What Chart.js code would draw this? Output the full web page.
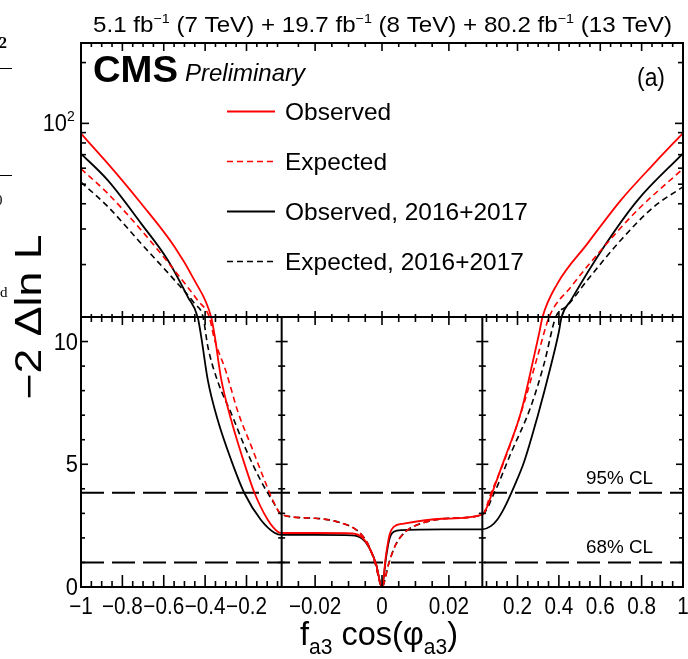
<!DOCTYPE html>
<html><head><meta charset="utf-8">
<script src="https://cdn.jsdelivr.net/npm/chart.js@4/dist/chart.umd.min.js"></script>
<style>html,body{margin:0;padding:0;background:#fff}#c{display:block}</style>
</head><body>
<canvas id="c" width="688" height="659"></canvas>
<script>
// ---------------- data ----------------
const seriesNames = ['Observed', 'Expected', 'Observed, 2016+2017', 'Expected, 2016+2017'];

const obsX = [-1, -0.87, -0.709, -0.548, -0.452, -0.371, -0.355, -0.323, -0.274, -0.226, -0.162, -0.098, -0.049, -0.03, -0.02, -0.0088, -0.0058, -0.0038, -0.0018, 0, 0.0012, 0.0022, 0.0035, 0.0065, 0.018, 0.03, 0.055, 0.071, 0.135, 0.216, 0.28, 0.305, 0.321, 0.393, 0.538, 0.699, 0.86, 1];
const obsY = [89, 63.2, 40.1, 24.5, 16.75, 11, 10.3, 8.5, 6.8, 5.45, 3.85, 2.75, 2.25, 2.2, 2.2, 2.18, 2.0, 1.6, 0.95, 0, 1.3, 2.1, 2.45, 2.58, 2.78, 2.95, 3.3, 3.68, 5.17, 7.1, 9.4, 10.35, 11, 16.1, 25.4, 41.6, 63.2, 89.5];

const expX = [-1, -0.87, -0.709, -0.548, -0.436, -0.38, -0.355, -0.3, -0.24, -0.175, -0.12, -0.065, -0.03, -0.02, -0.012, -0.007, -0.004, -0.002, 0, 0.002, 0.004, 0.007, 0.012, 0.02, 0.03, 0.071, 0.152, 0.232, 0.297, 0.353, 0.458, 0.618, 0.78, 1];
const expY = [59.6, 44.9, 29.6, 18.7, 13.3, 11, 10.1, 8.8, 7.1, 5.7, 4.5, 3.4, 2.95, 2.8, 2.6, 2.25, 1.7, 0.95, 0, 0.95, 1.7, 2.25, 2.6, 2.8, 2.95, 3.8, 5.5, 7.5, 9.4, 11, 15.5, 24.5, 37.2, 59.6];

const obs1617X = [-1, -0.87, -0.709, -0.58, -0.484, -0.436, -0.419, -0.387, -0.339, -0.274, -0.21, -0.13, -0.065, -0.03, -0.02, -0.009, -0.0058, -0.0038, -0.0018, 0, 0.0012, 0.0022, 0.0035, 0.006, 0.018, 0.03, 0.071, 0.103, 0.135, 0.184, 0.232, 0.297, 0.361, 0.40, 0.413, 0.458, 0.618, 0.78, 1];
const obs1617Y = [70.8, 52.2, 31.9, 21.0, 13.85, 11, 10.2, 8.43, 6.8, 5.17, 3.82, 2.73, 2.21, 2.12, 2.12, 2.1, 1.95, 1.6, 0.95, 0, 1.2, 1.95, 2.25, 2.32, 2.35, 2.35, 2.48, 2.75, 3.2, 4.1, 5.1, 6.95, 9.0, 10.4, 11, 13.3, 24.5, 41.6, 71];

const exp1617X = [-1, -0.87, -0.709, -0.548, -0.452, -0.41, -0.387, -0.34, -0.27, -0.205, -0.135, -0.07, -0.03, -0.02, -0.012, -0.007, -0.004, -0.002, 0, 0.002, 0.004, 0.007, 0.012, 0.02, 0.03, 0.087, 0.168, 0.264, 0.329, 0.385, 0.441, 0.538, 0.699, 0.86, 1];
const exp1617Y = [51.2, 38.7, 25.4, 16.75, 12.85, 11, 9.8, 8.4, 7.0, 5.65, 4.4, 3.45, 2.95, 2.8, 2.6, 2.25, 1.7, 0.95, 0, 0.95, 1.7, 2.25, 2.6, 2.8, 2.95, 3.82, 5.45, 7.34, 9.11, 11, 12.5, 16.75, 26.4, 38.7, 48.5];

const clLevels = [3.84, 1.0];
const clLabels = ['95% CL', '68% CL'];

const xTickValues = [-1, -0.8, -0.6, -0.4, -0.2, -0.02, 0, 0.02, 0.2, 0.4, 0.6, 0.8, 1];
const xTickLabels = ['\u22121', '\u22120.8', '\u22120.6', '\u22120.4', '\u22120.2', '\u22120.02', '0', '0.02', '0.2', '0.4', '0.6', '0.8', '1'];
const yLinTickValues = [0, 5, 10];
const yLinTickLabels = ['0', '5', '10'];
const yLogTickValues = [100];

// ---------------- custom scales (piecewise x, linear+log y) ----------------
const XB = 0.03, YSPLIT = 11, YMAX = 250, LINFRAC = 270 / 544;
function xDec(v) {
  if (v <= -XB) return (v + 1) / (1 - XB) / 3;
  if (v <= XB) return 1 / 3 + (v + XB) / (2 * XB) / 3;
  return 2 / 3 + (v - XB) / (1 - XB) / 3;
}
function xInv(d) {
  if (d <= 1 / 3) return d * 3 * (1 - XB) - 1;
  if (d <= 2 / 3) return (d - 1 / 3) * 3 * 2 * XB - XB;
  return (d - 2 / 3) * 3 * (1 - XB) + XB;
}
function yDec(v) {
  if (v <= YSPLIT) return v / YSPLIT * LINFRAC;
  return LINFRAC + Math.log10(v / YSPLIT) / Math.log10(YMAX / YSPLIT) * (1 - LINFRAC);
}
function yInv(d) {
  if (d <= LINFRAC) return d / LINFRAC * YSPLIT;
  return YSPLIT * Math.pow(10, (d - LINFRAC) / (1 - LINFRAC) * Math.log10(YMAX / YSPLIT));
}
class PiecewiseX extends Chart.LinearScale {
  getPixelForValue(v) { return v == null ? NaN : this.getPixelForDecimal(xDec(v)); }
  getValueForPixel(p) { return xInv(this.getDecimalForPixel(p)); }
}
PiecewiseX.id = 'piecewiseX';
PiecewiseX.defaults = Chart.LinearScale.defaults;
class LinLogY extends Chart.LinearScale {
  getPixelForValue(v) { return v == null ? NaN : this.getPixelForDecimal(yDec(v)); }
  getValueForPixel(p) { return yInv(this.getDecimalForPixel(p)); }
}
LinLogY.id = 'linLogY';
LinLogY.defaults = Chart.LinearScale.defaults;
Chart.register(PiecewiseX, LinLogY);

// ---------------- helpers ----------------
const SANS = '"Liberation Sans", Arial, Helvetica, sans-serif';
function pts(xs, ys) { return xs.map((x, i) => ({ x: x, y: ys[i] })); }
function seg(ctx, x1, y1, x2, y2) { ctx.beginPath(); ctx.moveTo(x1, y1); ctx.lineTo(x2, y2); ctx.stroke(); }
function fitText(ctx, str, x, y, font, align, targetW, sx) {
  ctx.save();
  ctx.font = font;
  const w = ctx.measureText(str).width;
  const s = targetW ? targetW / w : (sx || 1);
  ctx.translate(x, y);
  ctx.scale(s, 1);
  ctx.textAlign = align;
  ctx.textBaseline = 'alphabetic';
  ctx.fillText(str, 0, 0);
  ctx.restore();
}
function richText(ctx, segs, x, y, targetW, align, rot) {
  ctx.save();
  let total = 0;
  const ws = segs.map(s => { ctx.font = (s.style || '') + ' ' + s.size + 'px ' + SANS; const w = ctx.measureText(s.t).width; total += w; return w; });
  const sc = targetW ? targetW / total : 1;
  ctx.translate(x, y);
  if (rot) ctx.rotate(rot);
  ctx.scale(sc, 1);
  let cx = align === 'center' ? -total / 2 : 0;
  ctx.textAlign = 'left';
  ctx.textBaseline = 'alphabetic';
  segs.forEach((s, i) => {
    ctx.font = (s.style || '') + ' ' + s.size + 'px ' + SANS;
    ctx.fillText(s.t, cx, s.dy || 0);
    cx += ws[i];
  });
  ctx.restore();
}
function range(a, b, step, skip) {
  const out = [];
  const n = Math.round((b - a) / step);
  for (let k = 0; k <= n; k++) {
    const v = +(a + k * step).toFixed(6);
    if (!skip || !skip(v)) out.push(v);
  }
  return out;
}

// tick positions (axis decoration)
const isMul = (v, m) => Math.abs(v / m - Math.round(v / m)) < 1e-6;
const xMinor = [].concat(
  range(-0.95, -0.05, 0.05, v => isMul(v, 0.2)),
  range(-0.025, 0.025, 0.005, v => isMul(v, 0.02)),
  range(0.05, 0.95, 0.05, v => isMul(v, 0.2))
);
const yLinMinor = [1, 2, 3, 4, 6, 7, 8, 9];
const yLogMinor = [20, 30, 40, 50, 60, 70, 80, 90, 200];

// ---------------- plugin: frame, ticks, texts, legend ----------------
const cmsPlugin = {
  id: 'cmsDecor',
  afterDatasetsDraw(chart) {
    const { ctx, chartArea: { left, right, top, bottom }, scales: { x, y } } = chart;
    const y11 = y.getPixelForValue(YSPLIT);
    const xL = x.getPixelForValue(-XB), xR = x.getPixelForValue(XB);
    ctx.save();
    ctx.strokeStyle = '#000';
    ctx.lineCap = 'butt';
    ctx.lineWidth = 2;
    ctx.strokeRect(left, top, right - left, bottom - top);
    seg(ctx, left, y11, right, y11);
    seg(ctx, xL, y11, xL, bottom);
    seg(ctx, xR, y11, xR, bottom);
    ctx.lineWidth = 1.6;
    xTickValues.forEach(v => {
      const p = x.getPixelForValue(v);
      seg(ctx, p, bottom, p, bottom - 12);
      seg(ctx, p, top, p, top + 8);
      seg(ctx, p, y11 - 6, p, y11 + 8);
    });
    xMinor.forEach(v => {
      const p = x.getPixelForValue(v);
      seg(ctx, p, bottom, p, bottom - 6);
      seg(ctx, p, top, p, top + 4);
      seg(ctx, p, y11 - 3, p, y11 + 5);
    });
    yLinTickValues.forEach(v => {
      const p = y.getPixelForValue(v);
      seg(ctx, left, p, left + 7, p);
      seg(ctx, right, p, right - 7, p);
      seg(ctx, xL - 6, p, xL + 6, p);
      seg(ctx, xR - 6, p, xR + 6, p);
    });
    yLinMinor.forEach(v => {
      const p = y.getPixelForValue(v);
      seg(ctx, left, p, left + 4, p);
      seg(ctx, right, p, right - 4, p);
      seg(ctx, xL - 3.5, p, xL + 3.5, p);
      seg(ctx, xR - 3.5, p, xR + 3.5, p);
    });
    yLogTickValues.forEach(v => {
      const p = y.getPixelForValue(v);
      seg(ctx, left, p, left + 8, p);
      seg(ctx, right, p, right - 8, p);
    });
    yLogMinor.forEach(v => {
      const p = y.getPixelForValue(v);
      seg(ctx, left, p, left + 5, p);
      seg(ctx, right, p, right - 5, p);
    });
    ctx.restore();
  },
  afterDraw(chart) {
    const { ctx, scales: { x, y } } = chart;
    const dsets = chart.data.datasets;
    ctx.save();
    ctx.fillStyle = '#000';
    xTickValues.forEach((v, i) => {
      fitText(ctx, xTickLabels[i], x.getPixelForValue(v), 614, '23px ' + SANS, 'center', null, 0.9);
    });
    yLinTickValues.forEach((v, i) => {
      fitText(ctx, yLinTickLabels[i], 78, y.getPixelForValue(v) + 8, '23px ' + SANS, 'right', null, 0.95);
    });
    yLogTickValues.forEach(v => {
      const p = y.getPixelForValue(v);
      fitText(ctx, '10', 67, p + 8, '23px ' + SANS, 'right', null, 0.95);
      fitText(ctx, '2', 67, p - 2, '14px ' + SANS, 'left', null, 1);
    });
    richText(ctx, [
      { t: 'f', size: 34 }, { t: 'a3', size: 22, dy: 9 }, { t: ' cos(', size: 34 },
      { t: '\u03c6', size: 34 }, { t: 'a3', size: 22, dy: 9 }, { t: ')', size: 34 }
    ], 379, 645, 158, 'center');
    richText(ctx, [{ t: '\u22122 \u0394ln L', size: 36 }], 41, 317, 165, 'center', -Math.PI / 2);
    richText(ctx, [
      { t: '5.1 fb', size: 22 }, { t: '\u22121', size: 13, dy: -9 }, { t: ' (7 TeV) + 19.7 fb', size: 22 },
      { t: '\u22121', size: 13, dy: -9 }, { t: ' (8 TeV) + 80.2 fb', size: 22 },
      { t: '\u22121', size: 13, dy: -9 }, { t: ' (13 TeV)', size: 22 }
    ], 93, 32, 579, 'left');
    fitText(ctx, 'CMS', 93, 82, 'bold 37px ' + SANS, 'left', 85);
    fitText(ctx, 'Preliminary', 185, 81, 'italic 24px ' + SANS, 'left', 120);
    fitText(ctx, '(a)', 665, 86, '25px ' + SANS, 'right', 28);
    clLevels.forEach((v, i) => {
      fitText(ctx, clLabels[i], 653, y.getPixelForValue(v) - 9, '18px ' + SANS, 'right', 67);
    });
    const rows = [111.5, 161.5, 211.5, 261.5];
    for (let i = 0; i < 4; i++) {
      const d = dsets[i];
      ctx.save();
      ctx.strokeStyle = d.borderColor;
      ctx.lineWidth = d.borderWidth;
      ctx.setLineDash(d.borderDash || []);
      seg(ctx, 227, rows[i], 275, rows[i]);
      ctx.restore();
      fitText(ctx, seriesNames[i], 285, rows[i] + 8.5, '24px ' + SANS, 'left', null, 1.02);
    }
    // fragments of the neighbouring page visible at the left edge
    ctx.font = 'bold 16px "Liberation Serif", serif';
    ctx.textAlign = 'left';
    ctx.fillText('2', -1, 48);
    ctx.font = '15px "Liberation Serif", serif';
    ctx.fillText('0', -5, 205);
    ctx.fillText('d', 0, 297);
    ctx.strokeStyle = '#000';
    ctx.lineWidth = 1;
    seg(ctx, 0, 68.5, 12, 68.5);
    seg(ctx, 0, 175.5, 12, 175.5);
    ctx.restore();
  }
};

// ---------------- chart ----------------
const datasets = [
  { label: seriesNames[0], data: pts(obsX, obsY), borderColor: '#ff0000', borderWidth: 1.8, cubicInterpolationMode: 'monotone' },
  { label: seriesNames[1], data: pts(expX, expY), borderColor: '#ff0000', borderWidth: 1.6, borderDash: [6, 4], cubicInterpolationMode: 'monotone' },
  { label: seriesNames[2], data: pts(obs1617X, obs1617Y), borderColor: '#000000', borderWidth: 1.8, cubicInterpolationMode: 'monotone' },
  { label: seriesNames[3], data: pts(exp1617X, exp1617Y), borderColor: '#000000', borderWidth: 1.6, borderDash: [6, 4], cubicInterpolationMode: 'monotone' }
];
clLevels.forEach((v, i) => {
  datasets.push({ label: clLabels[i], data: [{ x: -1, y: v }, { x: 1, y: v }], borderColor: '#000000', borderWidth: 2, borderDash: [23, 8], tension: 0 });
});

new Chart(document.getElementById('c'), {
  type: 'line',
  data: { datasets: datasets },
  options: {
    responsive: false,
    animation: false,
    devicePixelRatio: 1,
    layout: { padding: { left: 81, top: 43, right: 5, bottom: 72 } },
    elements: { point: { radius: 0, hitRadius: 0, hoverRadius: 0 } },
    scales: {
      x: { type: 'piecewiseX', min: -1, max: 1, display: false },
      y: { type: 'linLogY', min: 0, max: YMAX, display: false }
    },
    plugins: { legend: { display: false }, tooltip: { enabled: false } }
  },
  plugins: [cmsPlugin]
});
</script>
</body></html>
